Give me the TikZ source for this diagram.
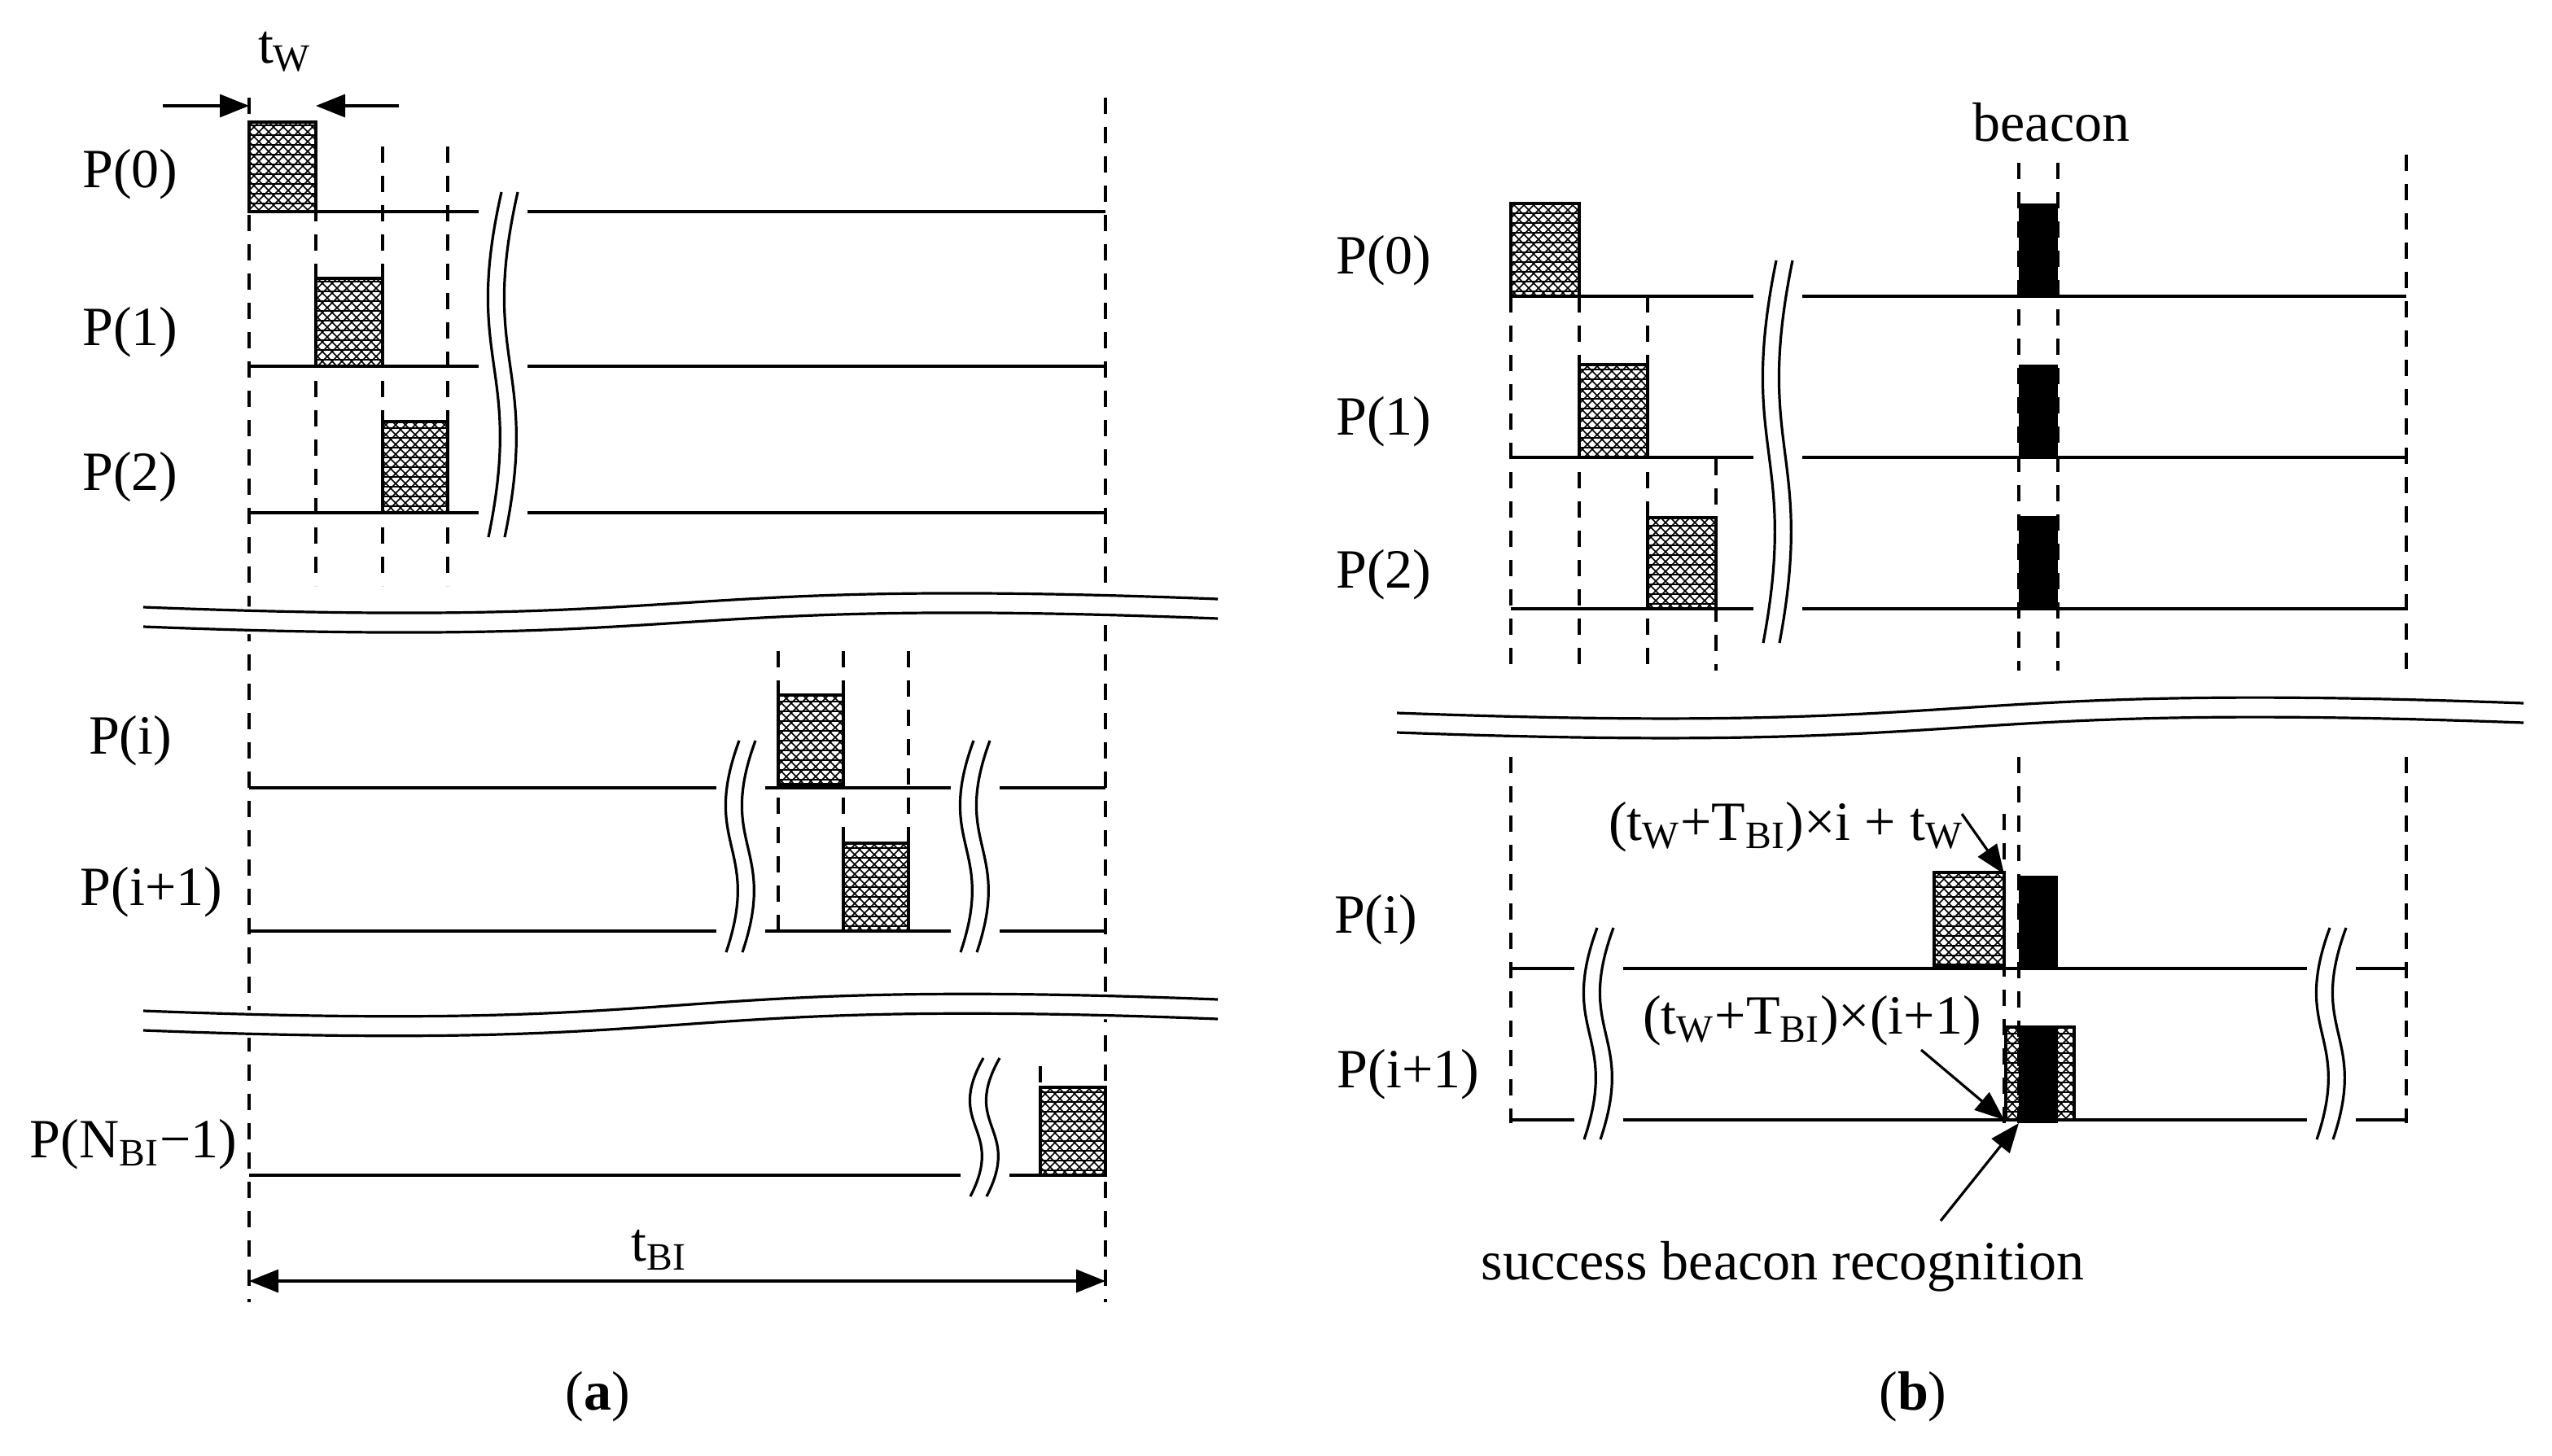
\documentclass[tikz,border=0pt]{standalone}
\usepackage{fontspec}
\setmainfont{Liberation Serif}
\usetikzlibrary{patterns,arrows.meta}

\newcommand{\brk}[3]{% x, top, bottom
  \fill[white] (#1-8,#2) rectangle (#1+22,#3);
  \draw (#1+6,#2) .. controls (#1-18,#2/2+#3/2) and (#1+20,#2/2+#3/2) .. (#1-2,#3);
  \draw (#1+16,#2) .. controls (#1-8,#2/2+#3/2) and (#1+30,#2/2+#3/2) .. (#1+8,#3);
}
\newcommand{\band}[4]{% x1, x2, y left, y right
  \fill[white] (#1,#3-3) .. controls (#1*0.45+#2*0.55,#3+14) and (#1*0.55+#2*0.45,#4-14) .. (#2,#4-3)
    -- (#2,#4+15) .. controls (#1*0.55+#2*0.45,#4-2) and (#1*0.45+#2*0.55,#3+26) .. (#1,#3+15) -- cycle;
  \draw (#1,#3) .. controls (#1*0.45+#2*0.55,#3+14) and (#1*0.55+#2*0.45,#4-14) .. (#2,#4);
  \draw (#1,#3+12) .. controls (#1*0.45+#2*0.55,#3+26) and (#1*0.55+#2*0.45,#4-2) .. (#2,#4+12);
}

\begin{document}
\begin{tikzpicture}[x=0.5pt,y=-0.5pt,line width=0.8pt,
    font=\fontsize{17}{20}\selectfont,
    slot/.style={draw,line width=1pt,pattern=north east lines,
      preaction={pattern=north west lines},postaction={pattern=horizontal lines}},
    bcn/.style={fill=black},
    grid/.style={dashed,dash pattern=on 5pt off 4pt},
    lbl/.style={anchor=center},
    tip/.style={-{Triangle[length=9pt,width=7pt]}}]
  \useasboundingbox (0,0) rectangle (1567.5,894);

  % (a) dashed time marks
  \draw[grid] (153,60) -- (153,800);
  \draw[grid] (679,60) -- (679,800);
  \foreach \x in {194,235,275} \draw[grid] (\x,90) -- (\x,360);
  \foreach \x in {478,518,558} \draw[grid] (\x,400) -- (\x,575);
  \draw[grid] (639,655) -- (639,668);

  % (a) time lines
  \foreach \y in {130,225,315} \draw (153,\y) -- (679,\y);
  \foreach \y in {484,572} \draw (153,\y) -- (679,\y);
  \draw (153,722) -- (679,722);

  % (a) slots
  \draw[slot] (153,75) rectangle (194,130);
  \draw[slot] (194,171) rectangle (235,225);
  \draw[slot] (235,259) rectangle (275,315);
  \draw[slot] (478,427) rectangle (518,482);
  \draw[slot] (518,518) rectangle (558,572);
  \draw[slot] (639,668) rectangle (679,722);

  % (a) breaks
  \brk{302}{118}{330}
  \brk{448}{455}{585}
  \brk{592}{455}{585}
  \brk{598}{650}{735}
  \band{88}{748}{373}{368}
  \band{88}{748}{621}{614}

  % (a) labels
  \node[lbl] (p0) at (80,107) {P(0)};
  \node[lbl] (p1) at (80,204) {P(1)};
  \node[lbl] (p2) at (80,293) {P(2)};
  \node[lbl] (pi) at (80,455) {P(i)};
  \node[lbl] (pi1) at (93,548) {P(i+1)};
  \node[lbl] (pn) at (82,703) {P(N\textsubscript{BI}−1)};
  \node[lbl] (tw) at (175,32) {t\textsubscript{W}};
  \coordinate (twl) at (100,65);
  \coordinate (twr) at (245,65);
  \draw[tip] (twl) -- (153,65);
  \draw[tip] (twr) -- (194,65);
  \node[lbl] (tbi) at (405,768) {t\textsubscript{BI}};
  \draw[{Triangle[length=9pt,width=7pt]}-{Triangle[length=9pt,width=7pt]}] (153,787) -- (679,787);
  \node[lbl] (capa) at (367,858) {(\textbf{a})};

  % (b) dashed time marks
  \foreach \x in {928,970,1012} \draw[grid] (\x,182) -- (\x,412);
  \draw[grid] (1054,282) -- (1054,412);
  \foreach \x in {1240,1264} \draw[grid] (\x,100) -- (\x,412);
  \draw[grid] (1478,95) -- (1478,412);
  \draw[grid] (928,465) -- (928,690);
  \draw[grid] (1478,465) -- (1478,690);
  \draw[grid] (1231,500) -- (1231,690);
  \draw[grid] (1240,465) -- (1240,690);

  % (b) time lines
  \foreach \y in {182,281,374,595,688} \draw (928,\y) -- (1478,\y);

  % (b) slots and beacons
  \draw[slot] (928,125) rectangle (970,182);
  \draw[slot] (970,224) rectangle (1012,281);
  \draw[slot] (1012,318) rectangle (1054,374);
  \foreach \y in {125,224,317} \fill[bcn] (1240,\y) rectangle (1264,\y+57);
  \draw[slot] (1188,536) rectangle (1231,593);
  \fill[bcn] (1240,538) rectangle (1264,595);
  \draw[slot] (1232,631) rectangle (1274,688);
  \fill[bcn] (1240,631) rectangle (1264,690);

  % (b) breaks
  \brk{1085}{160}{395}
  \brk{975}{570}{700}
  \brk{1425}{570}{700}
  \band{858}{1550}{438}{432}

  % (b) labels
  \node[lbl] (beacon) at (1260,75) {beacon};
  \node[lbl] (q0) at (850,160) {P(0)};
  \node[lbl] (q1) at (850,259) {P(1)};
  \node[lbl] (q2) at (850,353) {P(2)};
  \node[lbl] (qi) at (845,565) {P(i)};
  \node[lbl] (qi1) at (865,660) {P(i+1)};
  \node[lbl] (ti) at (1097,508) {(t\textsubscript{W}+T\textsubscript{BI})×i + t\textsubscript{W}};
  \node[lbl] (ti1) at (1113,627) {(t\textsubscript{W}+T\textsubscript{BI})×(i+1)};
  \node[lbl] (succ) at (1095,778) {success beacon recognition};
  \coordinate (ta) at (1205,500);
  \coordinate (tb) at (1180,645);
  \coordinate (tc) at (1192,750);
  \draw[tip] (ta) -- (1231,537);
  \draw[tip] (tb) -- (1231,688);
  \draw[tip] (tc) -- (1240,690);
  \node[lbl] (capb) at (1175,858) {(\textbf{b})};
\end{tikzpicture}
\end{document}
